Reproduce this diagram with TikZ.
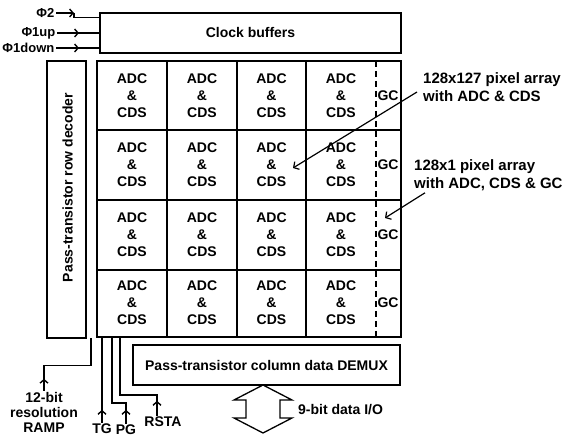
\documentclass[tikz,border=0pt]{standalone}
\usepackage{fontspec}
\setmainfont{Liberation Sans}
\usetikzlibrary{arrows.meta,calc,positioning}
\tikzset{
  txt/.style={font=\bfseries\fontsize{14}{17}\selectfont,align=center,inner sep=1pt},
  blk/.style={draw,line width=1.3pt,inner sep=0pt,txt},
  cell/.style={txt},
  inp/.style={font=\bfseries\fontsize{13}{15}\selectfont,inner sep=1.5pt,anchor=east},
  note/.style={font=\bfseries\fontsize{15}{18}\selectfont,align=left,anchor=west,
    inner sep=0pt},
  wire/.style={line width=1.4pt},
  sig/.style={wire,-{Straight Barb[length=3.5pt,width=8pt]}},
  ptr/.style={line width=1.2pt,-{Straight Barb[length=4pt,width=9pt]}},
  cellline/.style={line width=1.2pt},
  thk/.style={line width=2.4pt}
}
\begin{document}
\begin{tikzpicture}[x=1pt,y=-1pt]
\useasboundingbox (0,0) rectangle (574,438);
% ---------------- clock buffers and inputs ----------------
\node[blk,minimum width=301pt,minimum height=40pt] (clk) at (250.5,33) {Clock buffers};
\node[inp] (p2) at (56,13) {Φ2};
\node[inp] (p1u) at (57,33) {Φ1up};
\node[inp] (p1d) at (56,48) {Φ1down};
\draw[sig] (p2.east) -- ++(18,0) coordinate (k2);
\draw[wire] (k2) |- ($(clk.north west)+(0,5)$);
\draw[wire] (p1u.east) -- (p1u.east -| clk.west);
\draw[sig] (p1u.east) -- ++(22,0);
\draw[wire] (p1d.east) -- (p1d.east -| clk.west);
\draw[sig] (p1d.east) -- ++(23,0);
% ---------------- row decoder ----------------
\node[blk,minimum width=39pt,minimum height=277pt] (dec) at (66.5,199.5) {};
\node[txt,rotate=90] (dectxt) at ($(dec.center)+(1,-12)$) {Pass-transistor row decoder};
% ---------------- pixel array ----------------
\node[draw,thk,minimum width=304pt,minimum height=276pt,inner sep=0pt] (pix) at (249,199) {};
\foreach \y in {130,200,270}
  \draw[cellline] (97,\y) -- (401,\y);
\foreach \x in {167,237}
  \draw[cellline] (\x,61) -- (\x,337);
\draw[thk] (306,61) -- (306,337);
\draw[cellline,dash pattern=on 6pt off 4pt] (376,61) -- (376,337);
\foreach \y [count=\j] in {96,165,235,303}{
  \foreach \x [count=\i] in {132,202,271.5,341}
    \node[cell] (c\i\j) at (\x,\y) {ADC\\\&\\CDS};
  \node[cell] (gc\j) at (388,\y) {GC};
}
\node[note] (n1) at (423,87) {128x127 pixel array\\with ADC \& CDS};
\node[note] (n2) at (414,175) {128x1 pixel array\\with ADC, CDS \& GC};
\coordinate (t1) at (293,168);
\coordinate (t2) at (385,218);
\draw[ptr] ($(n1.west)+(-6,5)$) -- (t1);
\draw[ptr] ($(n2.south west)+(11,2)$) -- (t2);
% ---------------- column demux and data I/O ----------------
\node[blk,minimum width=267pt,minimum height=40pt] (dmx) at (266.5,365)
  {Pass-transistor column data DEMUX};
\coordinate (io) at (263,385);
\draw[line width=1.3pt] (io) -- ++(29,15) -- ++(-12,0) -- ++(0,18) -- ++(12,0)
  -- ($(io)+(0,48)$) -- ++(-29,-15) -- ++(12,0) -- ++(0,-18) -- ++(-12,0) -- cycle;
\node[txt,anchor=west] (iotxt) at (297,410) {9-bit data I/O};
% ---------------- control signals ----------------
\node[txt,font=\bfseries\fontsize{14}{15}\selectfont] (ramp) at (44,412) {12-bit\\resolution\\RAMP};
\node[txt] (tg) at (102,429) {TG};
\node[txt] (pg) at (126,430) {PG};
\node[txt] (rsta) at (163,422) {RSTA};
\draw[wire] ($(pix.south west)+(-5,0)$) |- ($(ramp.north)+(0,-25)$) -- (ramp.north);
\draw[sig] (ramp.north) -- ++(0,-12);
\draw[wire] (tg.north) -- (tg.north |- pix.south);
\draw[sig] (tg.north) -- ++(0,-13);
\draw[wire] ($(pix.south west)+(16,0)$) |- ($(pg.north)+(0,-21)$) -- (pg.north);
\draw[sig] (pg.north) -- ++(0,-14);
\draw[wire] ($(pix.south west)+(24,0)$) |- ($(rsta.north)+(-6,-21)$) -- ($(rsta.north)+(-6,0)$);
\draw[sig] ($(rsta.north)+(-6,0)$) -- ++(0,-15);
\end{tikzpicture}
\end{document}
